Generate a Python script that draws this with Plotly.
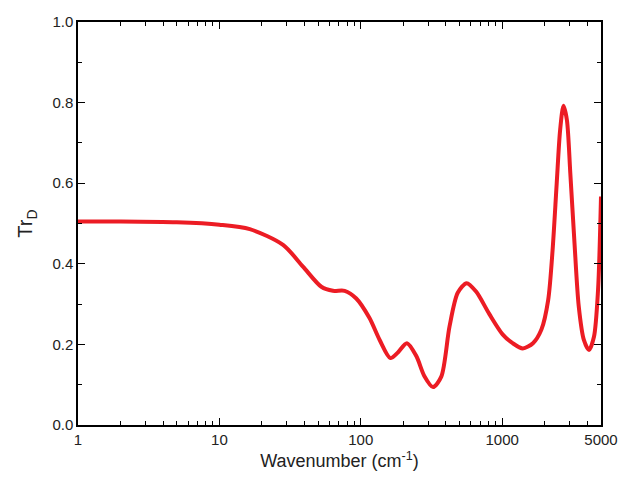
import plotly.graph_objects as go

wavenumber = [1, 2, 5, 10, 16.4, 28.2, 39, 52.6, 63.5, 76.9, 92.9, 115, 136, 162, 183,
              212, 247, 282, 324, 371, 424, 485, 561, 654, 812, 1007, 1186, 1400, 1651,
              1895, 2115, 2273, 2431, 2570, 2714, 2869, 3033, 3238, 3481, 3782, 4111,
              4459, 4765, 5000]
tr_d = [0.505, 0.505, 0.503, 0.497, 0.486, 0.447, 0.393, 0.343, 0.333, 0.333, 0.314,
        0.266, 0.211, 0.166, 0.180, 0.203, 0.171, 0.121, 0.094, 0.120, 0.244, 0.328,
        0.352, 0.331, 0.275, 0.225, 0.203, 0.190, 0.203, 0.237, 0.310, 0.434, 0.600,
        0.732, 0.792, 0.757, 0.625, 0.459, 0.294, 0.211, 0.186, 0.219, 0.335, 0.567]

x_tickvals = [1, 10, 100, 1000, 5000]
x_ticktext = ["1", "10", "100", "1000", "5000"]
x_minor = [m * d for d in (1, 10, 100) for m in range(2, 10)] + [2000, 3000, 4000]
y_tickvals = [0.0, 0.2, 0.4, 0.6, 0.8, 1.0]
y_ticktext = ["0.0", "0.2", "0.4", "0.6", "0.8", "1.0"]

fig = go.Figure()
fig.add_trace(go.Scatter(
    x=wavenumber, y=tr_d, mode="lines",
    line=dict(color="#ec1c24", width=4, shape="spline", smoothing=0.8),
    showlegend=False,
))

font = "Liberation Sans, Arial, sans-serif"
fig.update_layout(
    width=620, height=480,
    margin=dict(l=78, r=19, t=22, b=55),
    paper_bgcolor="white", plot_bgcolor="white",
    font=dict(family=font, size=15, color="#222"),
    xaxis=dict(
        type="log", range=[0, 3.69897], automargin=False,
        tickmode="array", tickvals=x_tickvals, ticktext=x_ticktext,
        ticklabeloverflow="allow",
        ticks="inside", ticklen=7, tickwidth=1.2, tickcolor="black",
        minor=dict(tickmode="array", tickvals=x_minor, ticks="inside", ticklen=4,
                   tickwidth=1.2, tickcolor="black", showgrid=False),
        showline=True, linecolor="black", linewidth=1.5, mirror="ticks",
        showgrid=False, zeroline=False,
        title=dict(text="Wavenumber (cm<sup>-1</sup>)", font=dict(size=18, family=font), standoff=8),
        tickfont=dict(size=15, family=font),
    ),
    yaxis=dict(
        range=[0, 1], automargin=False,
        tickmode="array", tickvals=y_tickvals, ticktext=y_ticktext,
        ticks="inside", ticklen=7, tickwidth=1.2, tickcolor="black",
        minor=dict(dtick=0.1, ticks="inside", ticklen=4, tickwidth=1.2,
                   tickcolor="black", showgrid=False),
        showline=True, linecolor="black", linewidth=1.5, mirror="ticks",
        showgrid=False, zeroline=False,
        title=dict(text="Tr<sub>D</sub>", font=dict(size=20, family=font), standoff=14),
        tickfont=dict(size=15, family=font),
    ),
)

# remove the page's default body margin so the 620x480 figure fills the window
fig.write_html(
    "out.html",
    config={"displayModeBar": False},
    post_script="document.body.style.margin='0';document.body.style.overflow='hidden';",
)
